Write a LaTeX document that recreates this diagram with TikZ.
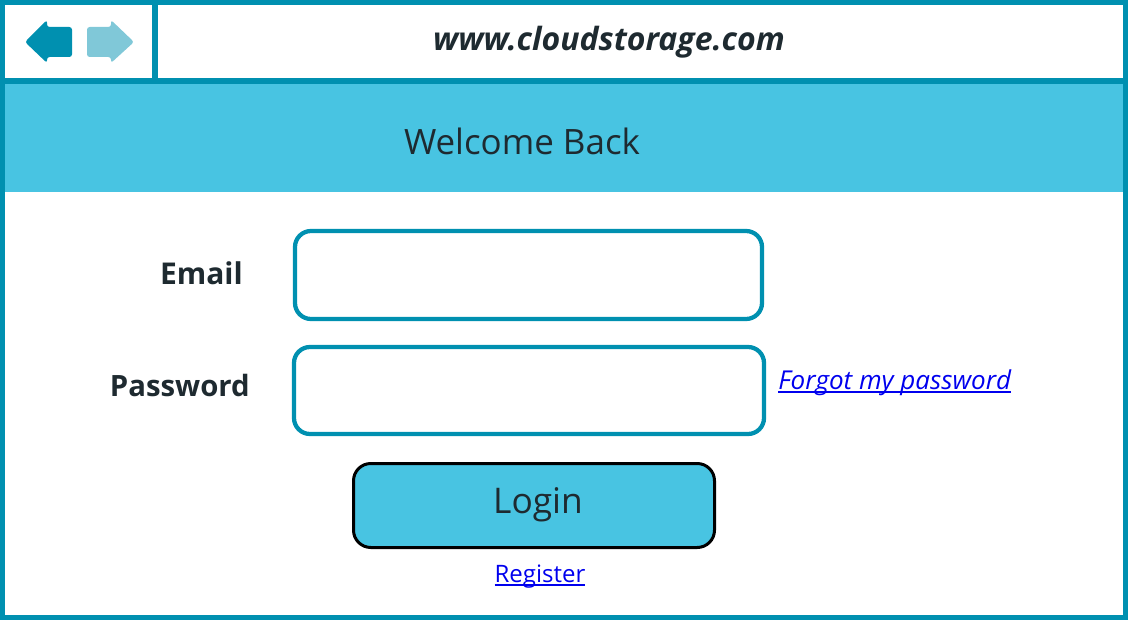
\documentclass[tikz,border=0pt]{standalone}
\usepackage{fontspec}
\setmainfont{Open Sans}
\definecolor{frameteal}{HTML}{0090B0}
\definecolor{bandblue}{HTML}{48C4E2}
\definecolor{paleteal}{HTML}{80C8D8}
\definecolor{inktext}{HTML}{1E2A30}
\definecolor{linkblue}{HTML}{0000EE}
\newcommand{\fs}[1]{\fontsize{#1}{1.2\dimexpr#1\relax}\selectfont}
\newcommand{\ulink}[1]{\setbox0\hbox{#1}\rlap{\box0}\setbox0\hbox{#1}\rule[-2.4pt]{\wd0}{1.3pt}}

\begin{document}
\begin{tikzpicture}[x=0.75pt,y=-0.75pt,
    field/.style={draw=frameteal,line width=3.2pt,rounded corners=12pt,inner sep=0pt},
    loginbtn/.style={draw=black,fill=bandblue,line width=2.25pt,rounded corners=13pt,inner sep=0pt},
    lbl/.style={inner sep=0pt,anchor=east,text=inktext,font=\bfseries\fs{22.5pt}},
    link/.style={inner sep=0pt,text=linkblue,font=\fs{18pt}}]
     \useasboundingbox (0,0) rectangle (1128,620);
     % window frame and bars
     \fill[bandblue] (5,84) rectangle (1123,192);
     \draw[frameteal,line width=3.75pt] (2.5,2.5) rectangle (1125.5,617.5);
     \draw[frameteal,line width=4.5pt] (2.5,81) -- (1125.5,81);
     \draw[frameteal,line width=4.5pt] (155,2.5) -- (155,81);
     % back and forward arrows
     \fill[frameteal,rounded corners=2pt] (25,42) -- (47,20) -- (47,27) -- (72,27)
          -- (72,57) -- (47,57) -- (47,63) -- cycle;
     \fill[paleteal,rounded corners=2pt] (134,42) -- (111,20) -- (111,27) -- (87,27)
          -- (87,57) -- (111,57) -- (111,63) -- cycle;
     \node[inner sep=0pt,text=inktext,font=\bfseries\itshape\fs{24pt}] (url) at (609,42) {www.cloudstorage.com};
     \node[inner sep=0pt,text=inktext,font=\fs{26.2pt}] (welcome) at (522,141) {Welcome Back};
     % form
     \node[field,minimum width=350.25pt,minimum height=66pt] (email) at (528.5,275) {};
     \node[field,minimum width=352.5pt,minimum height=65.25pt] (pass) at (529,390.5) {};
     \node[lbl] (emaillbl) at (243,273) {Email};
     \node[lbl,font=\bfseries\fs{22pt}] (passlbl) at (250,385) {Password};
     \node[link,font=\itshape\fs{19.5pt},anchor=west] (forgot) at (778,383) {\ulink{Forgot my password}};
     \node[loginbtn,minimum width=270.75pt,minimum height=63pt] (login) at (534,505.5) {};
     \node[inner sep=0pt,text=inktext,font=\fs{26.5pt}] (logintxt) at (538,505) {Login};
     \node[link] (register) at (540,577) {\ulink{Register}};
    \end{tikzpicture}
\end{document}
